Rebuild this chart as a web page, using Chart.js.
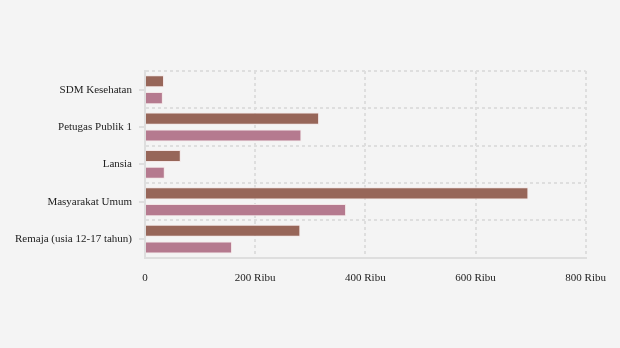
<!DOCTYPE html>
<html>
<head>
<meta charset="utf-8">
<script src="https://cdn.jsdelivr.net/npm/chart.js@4/dist/chart.umd.min.js"></script>
<style>
  html, body { margin: 0; padding: 0; background: #f4f4f4; }
  #wrap { width: 620px; height: 348px; }
</style>
</head>
<body>
<div id="wrap"><canvas id="vaksin_kelompok"></canvas></div>
<script>
// === Datos ===
const kategori = ['SDM Kesehatan', 'Petugas Publik 1', 'Lansia', 'Masyarakat Umum', 'Remaja (usia 12-17 tahun)'];
const dosis1 = [34500, 316000, 65000, 696000, 282000];
const dosis2 = [32500, 284000, 36000, 365000, 158000];
const ticksX = [0, 200000, 400000, 600000, 800000];

// tick pendek di tengah tiap kategori (garis grid ada di antara kategori)
const tickTengah = {
  id: 'tickTengah',
  beforeDatasetsDraw(chart) {
    const y = chart.scales.y;
    const ctx = chart.ctx;
    ctx.save();
    ctx.strokeStyle = '#dedede';
    ctx.lineWidth = 2;
    kategori.forEach((_, i) => {
      const py = Math.round(y.getPixelForTick(i));
      ctx.beginPath();
      ctx.moveTo(y.right - 6, py);
      ctx.lineTo(y.right, py);
      ctx.stroke();
    });
    ctx.restore();
  }
};

new Chart(document.getElementById('vaksin_kelompok'), {
  type: 'bar',
  data: {
    labels: kategori,
    datasets: [{
      label: 'Dosis 1',
      data: dosis1,
      backgroundColor: '#976659',
      borderColor: '#f3e6e6',
      borderWidth: 1
    }, {
      label: 'Dosis 2',
      data: dosis2,
      backgroundColor: '#b57a8f',
      borderColor: '#f3e6e6',
      borderWidth: 1
    }]
  },
  options: {
    indexAxis: 'y',
    responsive: true,
    maintainAspectRatio: false,
    animation: false,
    categoryPercentage: 0.9,
    barPercentage: 0.72,
    layout: { padding: { top: 71, right: 21, bottom: 49, left: 2 } },
    plugins: {
      legend: { display: false },
      tooltip: { enabled: false }
    },
    scales: {
      x: {
        min: 0,
        max: 800000,
        afterBuildTicks: axis => { axis.ticks = ticksX.map(v => ({ value: v })); },
        ticks: {
          color: '#222',
          font: { family: 'Liberation Serif', size: 11 },
          padding: 14,
          maxRotation: 0,
          callback: v => v === 0 ? '0' : (v / 1000) + ' Ribu'
        },
        grid: { color: '#dedede', lineWidth: 2, drawTicks: false },
        border: { color: '#dedede', width: 2, dash: [3, 3] }
      },
      y: {
        ticks: {
          color: '#222',
          font: { family: 'Liberation Serif', size: 11 },
          padding: 13
        },
        grid: { color: '#dedede', lineWidth: 2, drawTicks: false, offset: true },
        border: { color: '#dedede', width: 2, dash: [3, 3] }
      }
    }
  },
  plugins: [tickTengah]
});
</script>
</body>
</html>
